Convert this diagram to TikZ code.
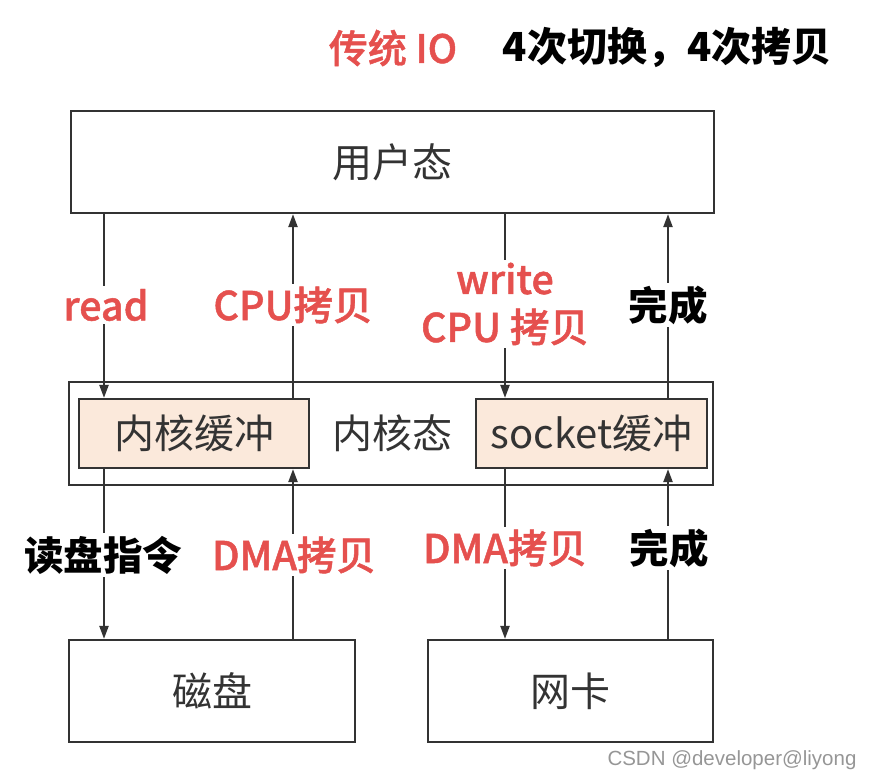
\documentclass[tikz,border=0pt]{standalone}
\usepackage{fontspec}
\setmainfont{Noto Sans CJK SC}
\newfontfamily\medfont{Noto Sans CJK SC Medium}[FakeBold=1.2]
\newfontfamily\wmfont{Liberation Sans}
\usetikzlibrary{arrows.meta}
\definecolor{redlbl}{RGB}{229,80,78}
\definecolor{ink}{RGB}{51,51,51}
\definecolor{bufFill}{RGB}{251,233,219}
\definecolor{wmgray}{RGB}{150,150,150}
\tikzset{
  box/.style={draw=ink, line width=2.2pt, minimum width=#1, inner sep=0pt},
  boxtxt/.style={text=ink, font=\fontsize{40}{46}\selectfont},
  lbl/.style={fill=white, inner sep=3pt, font=\fontsize{39.5}{48}\selectfont\bfseries, align=center},
  rlbl/.style={lbl, text=redlbl, font=\fontsize{39.5}{48}\selectfont\medfont},
  arr/.style={draw=ink, line width=2.2pt, -{Triangle[length=13pt,width=9pt]}},
}
\begin{document}
\begin{tikzpicture}[x=1pt,y=-1pt]
\useasboundingbox (0,0) rectangle (872,778);
% title
\node[text=redlbl, font=\fontsize{39}{42}\selectfont\medfont] (t1) at (393,48) {传统 IO};
\node[text=black, font=\fontsize{40}{42}\selectfont\bfseries] (t2) at (667,48) {4次切换，4次拷贝};
% boxes
\node[box=643pt, minimum height=102pt, boxtxt] (user) at (392.5,162) {用户态};
\node[box=644pt, minimum height=103pt] (kern) at (391,433.5) {};
\node[boxtxt] (kerntxt) at (392,433.5) {内核态};
\node[box=230pt, minimum height=69pt, fill=bufFill, boxtxt] (kbuf) at (194,433.5) {内核缓冲};
\node[box=231pt, minimum height=69pt, fill=bufFill, boxtxt] (sbuf) at (591.5,433.5) {socket缓冲};
\node[box=286pt, minimum height=102pt, boxtxt] (disk) at (212,691) {磁盘};
\node[box=285pt, minimum height=102pt, boxtxt] (nic) at (570.5,691) {网卡};
% x positions of connectors
\coordinate (xa) at (104,0);
\coordinate (xb) at (293,0);
\coordinate (xc) at (505,0);
\coordinate (xd) at (668,0);
% upper connectors
\draw[arr] (user.south -| xa) -- (kbuf.north -| xa);
\draw[arr] (kbuf.north -| xb) -- (user.south -| xb);
\draw[arr] (user.south -| xc) -- (sbuf.north -| xc);
\draw[arr] (sbuf.north -| xd) -- (user.south -| xd);
% lower connectors
\draw[arr] (kbuf.south -| xa) -- (disk.north -| xa);
\draw[arr] (disk.north -| xb) -- (kbuf.south -| xb);
\draw[arr] (sbuf.south -| xc) -- (nic.north -| xc);
\draw[arr] (nic.north -| xd) -- (sbuf.south -| xd);
% labels
\node[rlbl] (l1) at (106,305) {read};
\node[rlbl] (l2) at (293,305) {CPU拷贝};
\node[rlbl] (l3) at (505,304) {write\\CPU 拷贝};
\node[lbl, text=black] (l4) at (668,305) {完成};
\node[lbl, text=black] (l5) at (103,555) {读盘指令};
\node[rlbl] (l6) at (294,555) {DMA拷贝};
\node[rlbl] (l7) at (505,548) {DMA拷贝};
\node[lbl, text=black] (l8) at (669,548) {完成};
% watermark
\node[text=wmgray, font=\wmfont\fontsize{20.5}{22}\selectfont] (wm) at (732,760) {CSDN @developer@liyong};
\end{tikzpicture}
\end{document}
